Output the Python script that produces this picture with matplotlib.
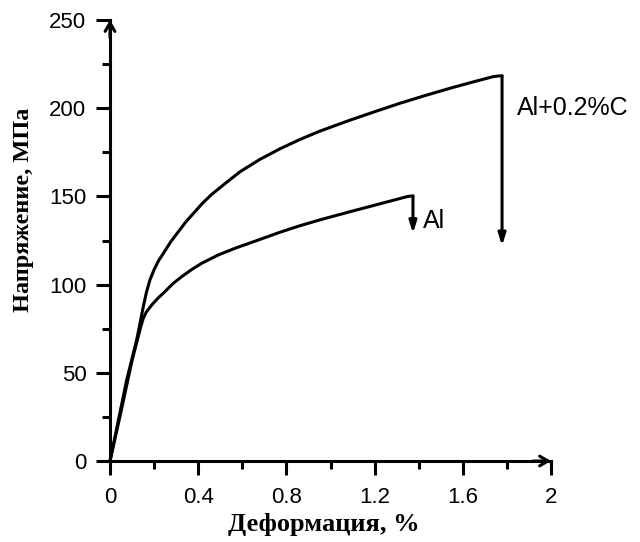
import matplotlib
matplotlib.use("Agg")
import matplotlib.pyplot as plt
from matplotlib.ticker import MultipleLocator

# Data
al_c_strain = [0.0, 0.0756, 0.121, 0.151, 0.165, 0.181, 0.20, 0.22, 0.242, 0.275, 0.31, 0.345, 0.385, 0.42, 0.46,
               0.529, 0.59, 0.68, 0.771, 0.862, 0.952, 1.088, 1.2, 1.315, 1.43, 1.542, 1.65, 1.738, 1.765]
al_c_stress = [0.0, 45.9, 68.6, 87.5, 95.5, 102.6, 108.5, 113.5, 117.7, 124.2, 130, 135.7, 141.3, 146.2, 151,
               158, 164, 171, 177, 182.3, 187, 193.2, 198, 202.8, 207.2, 211.3, 215, 217.9, 218.3]
al_c_break = (1.778, 218.3, 122)  # x, top, bottom of drop arrow

al_strain = [0.0, 0.05, 0.10, 0.128, 0.14, 0.151, 0.165, 0.189, 0.215, 0.249, 0.285, 0.325, 0.37, 0.416, 0.491,
             0.567, 0.68, 0.771, 0.862, 0.952, 1.088, 1.2, 1.3, 1.345, 1.362]
al_stress = [0.0, 28, 57, 70.5, 76.3, 80.9, 84.5, 88.4, 92, 96, 100.5, 104.5, 108.5, 112.1, 116.8,
             120.6, 125.6, 129.7, 133.4, 136.7, 141.3, 145, 148.3, 149.8, 150.2]
al_break = (1.374, 150.2, 129)

labels = ["Al+0.2%C", "Al"]
label_pos = [(1.845, 196), (1.42, 132)]

xticks = [0, 0.4, 0.8, 1.2, 1.6, 2]
xticklabels = ["0", "0.4", "0.8", "1.2", "1.6", "2"]
yticks = [0, 50, 100, 150, 200, 250]

fig = plt.figure(figsize=(6.4, 5.42), dpi=100)
ax = fig.add_axes([110/640, 81/542, 441/640, 441/542])

lw = 2.2
for xs, ys, brk in [(al_c_strain, al_c_stress, al_c_break), (al_strain, al_stress, al_break)]:
    ax.plot(list(xs) + [brk[0]], list(ys) + [brk[1]], color="black", lw=lw,
            solid_joinstyle="round", solid_capstyle="round", clip_on=False)
    ax.annotate("", xy=(brk[0], brk[2]), xytext=(brk[0], brk[1]),
                arrowprops=dict(arrowstyle="-|>,head_length=0.7,head_width=0.22", color="black", lw=lw,
                                shrinkA=0, shrinkB=0))

for txt, (x, y) in zip(labels, label_pos):
    ax.text(x, y, txt, fontsize=18, family="Liberation Sans", ha="left", va="baseline")

ax.set_xlim(0, 2)
ax.set_ylim(0, 250)
ax.set_xticks(xticks)
ax.set_xticklabels(xticklabels)
ax.set_yticks(yticks)
ax.xaxis.set_minor_locator(MultipleLocator(0.2))
ax.yaxis.set_minor_locator(MultipleLocator(25))

for s in ["top", "right"]:
    ax.spines[s].set_visible(False)
for s in ["left", "bottom"]:
    ax.spines[s].set_linewidth(lw)

ax.tick_params(which="major", direction="out", length=10, width=lw, labelsize=16, pad=7)
ax.tick_params(which="minor", direction="out", length=5.5, width=lw)
ax.tick_params(axis="x", which="major", pad=9)
for lab in ax.get_xticklabels() + ax.get_yticklabels():
    lab.set_family("Liberation Sans")

# axis arrowheads
ax.annotate("", xy=(1, 0), xytext=(0.96, 0), xycoords="axes fraction",
            arrowprops=dict(arrowstyle="->,head_length=0.6,head_width=0.35", color="black", lw=lw, shrinkA=0, shrinkB=0))
ax.annotate("", xy=(0, 1), xytext=(0, 0.96), xycoords="axes fraction",
            arrowprops=dict(arrowstyle="->,head_length=0.6,head_width=0.35", color="black", lw=lw, shrinkA=0, shrinkB=0))

ax.set_xlabel("Деформация, %", fontsize=19, family="Liberation Serif", fontweight="bold")
ax.set_ylabel("Напряжение, МПа", fontsize=17.5, family="Liberation Serif", fontweight="bold")
ax.xaxis.label.set_va("center")
ax.xaxis.set_label_coords((324 - 110) / 441, -(524 - 461) / 441)
ax.yaxis.set_label_coords(-(110 - 24) / 441, (461 - 210) / 441)
ax.yaxis.label.set_va("center")

fig.savefig("out.png", dpi=100)
